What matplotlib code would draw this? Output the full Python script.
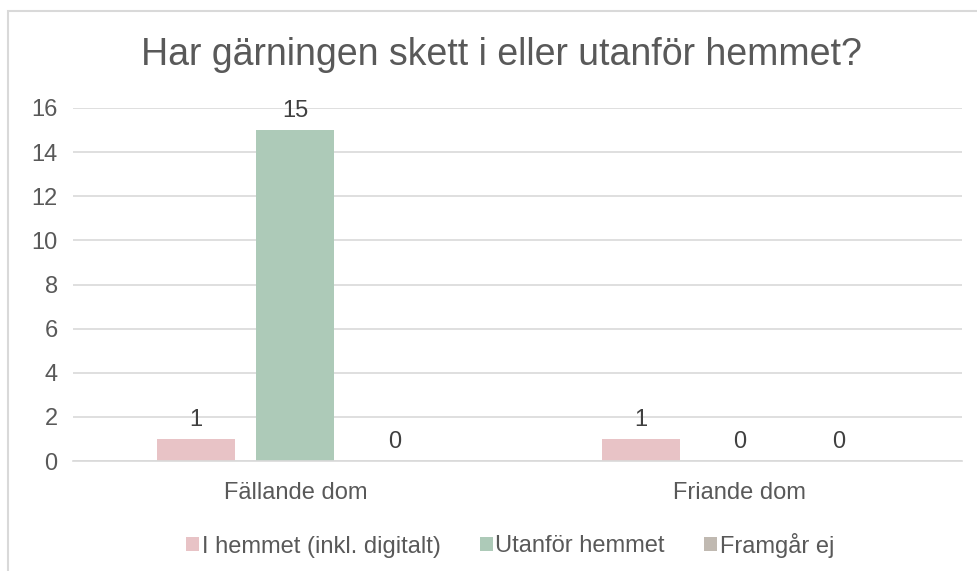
import matplotlib
matplotlib.use("Agg")
import matplotlib.pyplot as plt
from matplotlib.patches import Rectangle, Patch
import numpy as np

categories = ["Fällande dom", "Friande dom"]
series_names = ["I hemmet (inkl. digitalt)", "Utanför hemmet", "Framgår ej"]
values = [
    [1, 1],   # I hemmet (inkl. digitalt)
    [15, 0],  # Utanför hemmet
    [0, 0],   # Framgår ej
]
colors = ["#E8C3C6", "#ADCAB8", "#C0B9B1"]
yticks = [0, 2, 4, 6, 8, 10, 12, 14, 16]
title = "Har gärningen skett i eller utanför hemmet?"

plt.rcParams['font.family'] = ['Liberation Sans', 'DejaVu Sans']
text_color = "#595959"
grid_color = "#D9D9D9"

W, H = 977, 571
fig = plt.figure(figsize=(W / 100, H / 100), dpi=100)
fig.patch.set_facecolor("white")

# outer border (chart area), extends beyond right/bottom edges
fig.patches.append(Rectangle((8 / W, -0.1), 1.2, 1 - 11 / H + 0.1,
                             transform=fig.transFigure, fill=False,
                             edgecolor=grid_color, linewidth=1.5))

ax = fig.add_axes([73 / W, 1 - 461 / H, (962 - 73) / W, (461 - 108) / H])
x = np.arange(len(categories))
bw = 0.175
step = 0.223
for i, (name, vals, c) in enumerate(zip(series_names, values, colors)):
    xs = x + (i - 1) * step
    ax.bar(xs, vals, width=bw, color=c, label=name, zorder=3)
    for xi, v in zip(xs, vals):
        ax.annotate(str(v), (xi, v), xytext=(0, 6), textcoords="offset points",
                    ha="center", va="bottom", fontsize=17, color="#404040")

ax.set_xlim(-0.5, 1.5)
ax.set_ylim(0, 16)
ax.set_yticks(yticks)
ax.set_xticks(x)
ax.set_xticklabels(categories)
ax.tick_params(axis="both", length=0, labelsize=17, labelcolor=text_color)
ax.tick_params(axis="y", pad=11)
ax.tick_params(axis="x", pad=15)
ax.yaxis.grid(True, color=grid_color, linewidth=1.2, zorder=0)
for s in ["top", "right", "left"]:
    ax.spines[s].set_visible(False)
ax.spines["bottom"].set_color(grid_color)
ax.spines["bottom"].set_linewidth(1.2)
ax.spines["bottom"].set_zorder(4)

fig.text(501 / W, 1 - 55 / H, title, ha="center", va="center",
         fontsize=27, color=text_color)

handles = [Patch(facecolor=c, edgecolor="none") for c in colors]
fig.legend(handles, series_names, loc="center", ncol=3,
           bbox_to_anchor=(510 / W, 1 - 545 / H), frameon=False,
           fontsize=17, labelcolor=text_color, handlelength=0.55,
           handleheight=0.55, handletextpad=0.12, columnspacing=1.65)

fig.savefig("out.png", dpi=100, facecolor="white")
